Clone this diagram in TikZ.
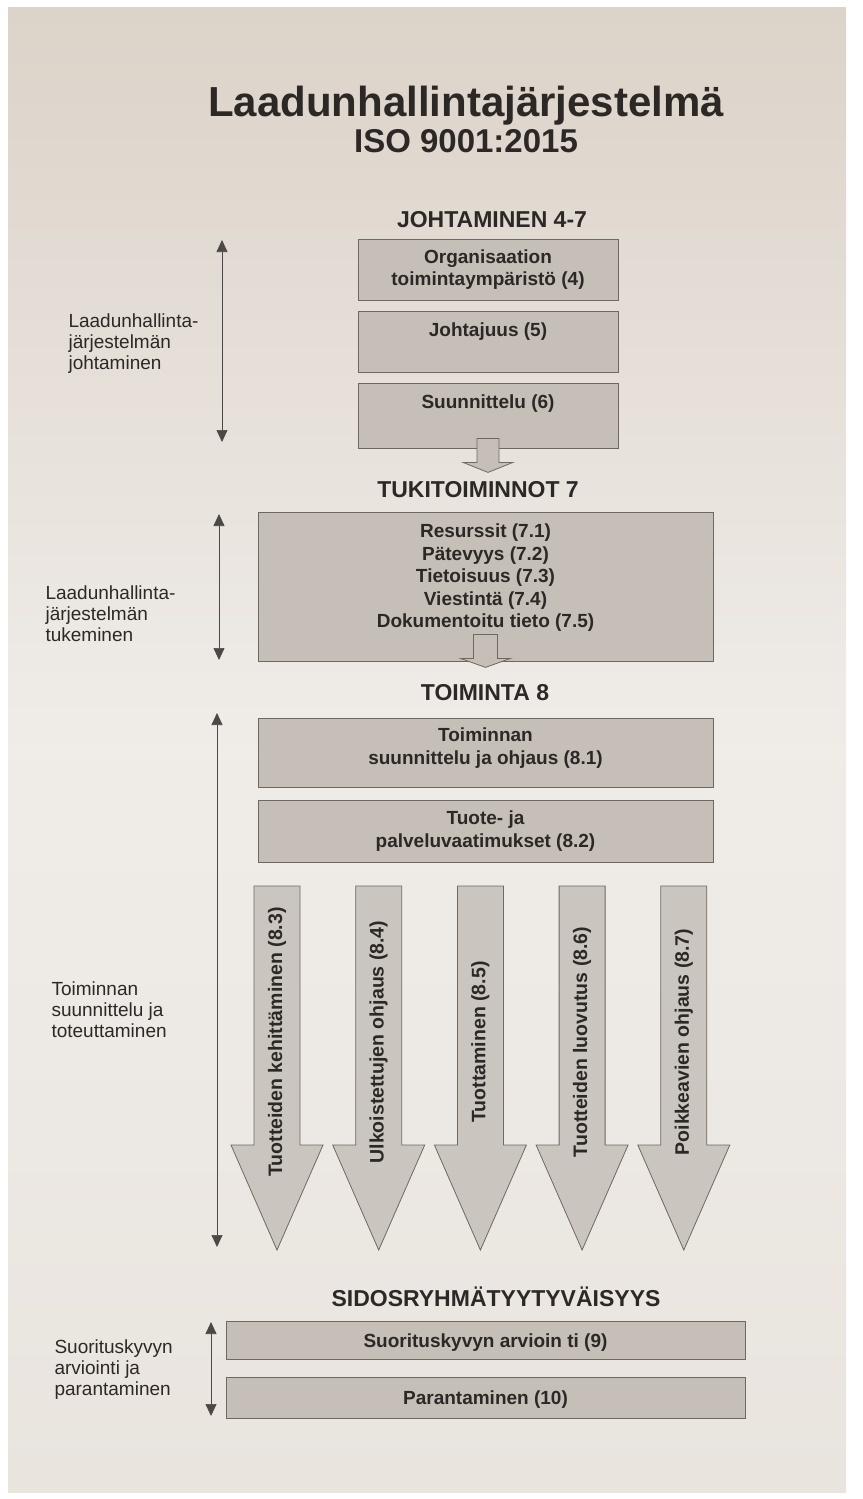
\documentclass[tikz,border=0pt]{standalone}
\usepackage{fontspec}
\setmainfont{Liberation Sans}
\usetikzlibrary{arrows.meta}
\definecolor{paper}{HTML}{E9E4DE}
\definecolor{papertop}{HTML}{DCD3C9}
\definecolor{boxgray}{HTML}{C6BFB8}
\definecolor{flowgray}{HTML}{CBC5BF}
\definecolor{boxline}{HTML}{6F6861}
\definecolor{ink}{HTML}{2C2825}

% raise text inside a box without changing its size
\newcommand{\lift}[2]{\raisebox{#1}[\height][\depth]{#2}}

\begin{document}
\begin{tikzpicture}[
  x=1pt,
  y=-1pt,
  box/.style={draw=boxline, fill=boxgray, line width=0.8pt, inner sep=0pt,
    align=center, text=ink, font=\bfseries\fontsize{19}{22.5}\selectfont},
  stage/.style={text=ink, font=\bfseries\fontsize{23}{27}\selectfont},
  side/.style={anchor=west, align=left, text=ink, font=\fontsize{19}{21}\selectfont},
  span/.style={draw=ink!85, line width=0.7pt,
    {Triangle[width=11pt,length=12pt]}-{Triangle[width=11pt,length=12pt]}},
  pass/.style={draw=boxline, fill=boxgray, line width=0.8pt},
  flow/.style={draw=boxline, fill=flowgray, line width=0.8pt},
  flowtext/.style={rotate=90, text=ink, font=\bfseries\fontsize{19.5}{23}\selectfont}
]
  \useasboundingbox (0,0) rectangle (862,1499);
  \fill[white] (0,0) rectangle (862,1499);
  \shade[top color=papertop, bottom color=paper, middle color=paper!70!white]
    (8,7) rectangle (846,1492);

  % title
  \node[text=ink, font=\bfseries\fontsize{42}{48}\selectfont, anchor=base]
    (title) at (466,116) {Laadunhallintajärjestelmä};
  \node[text=ink, font=\bfseries\fontsize{33}{40}\selectfont, anchor=base]
    (iso) at (466,152) {ISO 9001:2015};

  % johtaminen
  \node[stage] (johto) at (492,220) {JOHTAMINEN 4-7};
  \node[box, minimum width=260pt, minimum height=61pt] (org) at (488,269.5)
    {Organisaation\\toimintaympäristö (4)};
  \node[box, minimum width=260pt, minimum height=61pt] (lead) at (488,341.5)
    {\lift{9.5pt}{Johtajuus (5)}};
  \node[box, minimum width=260pt, minimum height=65pt] (plan) at (488,415.5)
    {\lift{12pt}{Suunnittelu (6)}};
  \draw[pass, shift={(plan.south)}]
    (-11,-10) -- (11,-10) -- (11,14) -- (25,14) -- (0,24) -- (-25,14) -- (-11,14) -- cycle;

  \coordinate (jt) at (222,240);
  \coordinate (jb) at (222,442);
  \draw[span] (jt) -- (jb);
  \node[side] (johtolbl) at (65,344)
    {Laadunhallinta-\\järjestelmän\\johtaminen};

  % tukitoiminnot
  \node[stage] (tukih) at (478,490) {TUKITOIMINNOT 7};
  \node[box, minimum width=455pt, minimum height=149pt] (tuki) at (485.5,586.5)
    {\lift{8.5pt}{\begin{tabular}{@{}c@{}}Resurssit (7.1)\\Pätevyys (7.2)\\
      Tietoisuus (7.3)\\Viestintä (7.4)\\Dokumentoitu tieto (7.5)\end{tabular}}};
  \draw[pass, shift={(tuki.south)}]
    (-12,-27) -- (12,-27) -- (12,-3) -- (25,-3) -- (0,6) -- (-25,-3) -- (-12,-3) -- cycle;

  \coordinate (tt) at (219,514);
  \coordinate (tb) at (219,660);
  \draw[span] (tt) -- (tb);
  \node[side] (tukilbl) at (42,614)
    {Laadunhallinta-\\järjestelmän\\tukeminen};

  % toiminta
  \node[stage] (toimh) at (485,693) {TOIMINTA 8};
  \node[box, minimum width=455pt, minimum height=69pt] (ops) at (485.5,752.5)
    {\lift{4pt}{\begin{tabular}{@{}c@{}}Toiminnan\\suunnittelu ja ohjaus (8.1)\end{tabular}}};
  \node[box, minimum width=455pt, minimum height=62pt] (req) at (485.5,831)
    {Tuote- ja\\palveluvaatimukset (8.2)};

  \foreach \txt [count=\n] in {Tuotteiden kehittäminen (8.3),
      Ulkoistettujen ohjaus (8.4), Tuottaminen (8.5),
      Tuotteiden luovutus (8.6), Poikkeavien ohjaus  (8.7)} {
    \pgfmathsetmacro\cx{277+101.7*(\n-1)}
    \draw[flow] (\cx-23,886) -- (\cx+23,886) -- (\cx+23,1145) -- (\cx+46,1145)
      -- (\cx,1250) -- (\cx-46,1145) -- (\cx-23,1145) -- cycle;
    \node[flowtext] (act\n) at (\cx,1042) {\txt};
  }

  \coordinate (ot) at (217,713);
  \coordinate (ob) at (217,1247);
  \draw[span] (ot) -- (ob);
  \node[side] (toimlbl) at (48,1010)
    {Toiminnan\\suunnittelu ja\\toteuttaminen};

  % sidosryhmat
  \node[stage] (sidos) at (496,1297) {SIDOSRYHMÄTYYTYVÄISYYS};
  \node[box, minimum width=519pt, minimum height=38pt] (eval) at (485.5,1340)
    {\lift{-3pt}{Suorituskyvyn arvioin ti (9)}};
  \node[box, minimum width=519pt, minimum height=41pt] (impr) at (485.5,1397.5)
    {\lift{-2pt}{Parantaminen (10)}};

  \coordinate (st) at (211,1322);
  \coordinate (sb) at (211,1416);
  \draw[span] (st) -- (sb);
  \node[side] (sidoslbl) at (51,1370)
    {Suorituskyvyn\\arviointi ja\\parantaminen};
\end{tikzpicture}
\end{document}
